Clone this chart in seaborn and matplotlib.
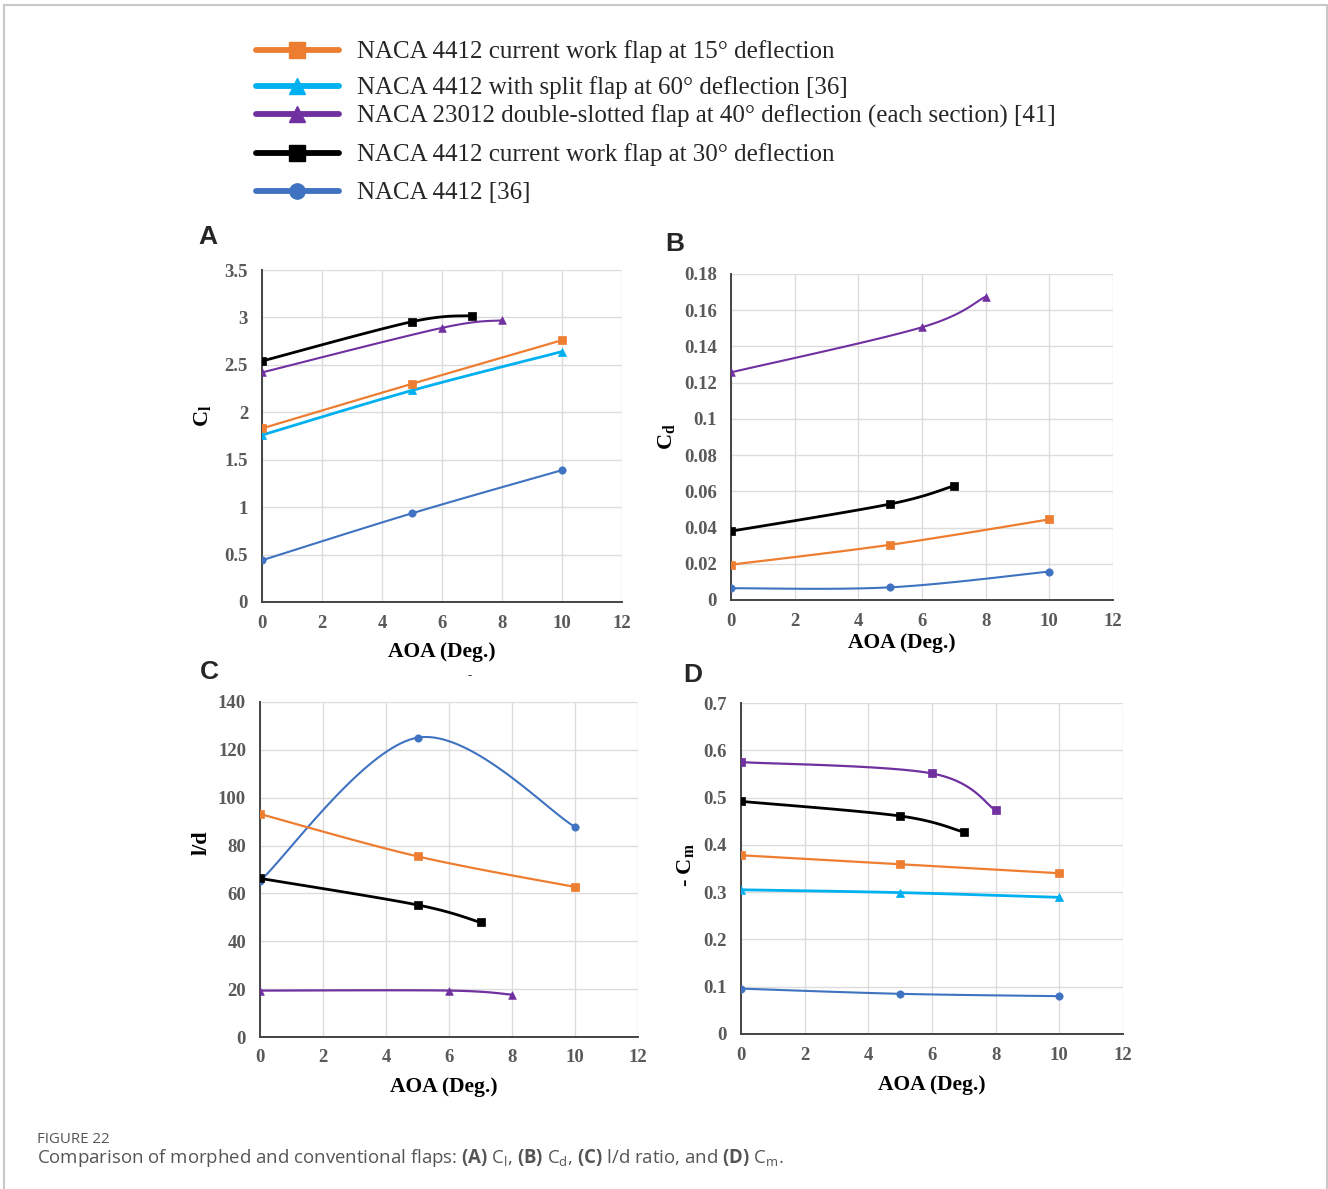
import numpy as np
import matplotlib
matplotlib.use("Agg")
import matplotlib.pyplot as plt
import seaborn as sns
from matplotlib.lines import Line2D
from matplotlib.patches import Rectangle

# ---------------- data ----------------
aoa_main = [0, 5, 10]      # angle of attack for NACA 4412 series
aoa_30 = [0, 5, 7]         # current work flap at 30 deg
aoa_23012 = [0, 6, 8]      # NACA 23012 double-slotted flap

series_labels = [
    "NACA 4412 current work flap at 15\u00b0 deflection",
    "NACA 4412 with split flap at 60\u00b0 deflection [36]",
    "NACA 23012 double-slotted flap at 40\u00b0 deflection (each section) [41]",
    "NACA 4412 current work flap at 30\u00b0 deflection",
    "NACA 4412 [36]",
]

# (A) lift coefficient
cl_flap15 = [1.83, 2.30, 2.76]
cl_split60 = [1.76, 2.23, 2.64]
cl_23012 = [2.42, 2.89, 2.97]
cl_flap30 = [2.54, 2.955, 3.02]
cl_4412 = [0.44, 0.935, 1.39]

# (B) drag coefficient
cd_flap15 = [0.0195, 0.0305, 0.0445]
cd_23012 = [0.1257, 0.1506, 0.1675]
cd_flap30 = [0.038, 0.053, 0.063]
cd_4412 = [0.0065, 0.0070, 0.0157]

# (C) lift-to-drag ratio
ld_flap15 = [93.2, 75.5, 62.7]
ld_23012 = [19.4, 19.4, 17.7]
ld_flap30 = [66.3, 55.2, 47.9]
ld_4412 = [65.2, 125.1, 87.8]

# (D) pitching moment coefficient (negative)
cm_flap15 = [0.378, 0.359, 0.340]
cm_split60 = [0.305, 0.299, 0.289]
cm_23012 = [0.575, 0.551, 0.473]
cm_flap30 = [0.492, 0.461, 0.427]
cm_4412 = [0.096, 0.085, 0.080]

# ---------------- styling ----------------
C_ORANGE = "#ED7D31"
C_CYAN = "#00B0F0"
C_PURPLE = "#7030A0"
C_BLACK = "#000000"
C_BLUE = "#3F72C0"

W, H = 1328, 1189

sns.set_style("white")
plt.rcParams["font.family"] = ["Liberation Serif", "DejaVu Serif"]
plt.rcParams["mathtext.fontset"] = "custom"
plt.rcParams["mathtext.rm"] = "Liberation Serif"
plt.rcParams["mathtext.bf"] = "Open Sans:bold"

fig = plt.figure(figsize=(W / 100, H / 100), dpi=100)


def smooth(xs, ys, n=40):
    """Smoothed polyline through the points (cubic Bezier segments)."""
    p = np.column_stack([xs, ys]).astype(float)
    out = [p[0]]
    t = np.linspace(0, 1, n)[1:, None]
    for i in range(len(p) - 1):
        p_prev = p[i - 1] if i > 0 else p[i]
        p_next = p[i + 2] if i + 2 < len(p) else p[i + 1]
        c1 = p[i] + (p[i + 1] - p_prev) / 6.0
        c2 = p[i + 1] - (p_next - p[i]) / 6.0
        seg = ((1 - t) ** 3) * p[i] + 3 * ((1 - t) ** 2) * t * c1 \
            + 3 * (1 - t) * (t ** 2) * c2 + (t ** 3) * p[i + 1]
        out.extend(seg)
    return np.array(out)


def draw_series(ax, xs, ys, color, marker, lw=1.5, msize=30, z=3):
    curve = smooth(xs, ys)
    sns.lineplot(x=curve[:, 0], y=curve[:, 1], ax=ax, color=color, lw=lw,
                 sort=False, estimator=None, zorder=z)
    sns.scatterplot(x=xs, y=ys, ax=ax, color=color, marker=marker, s=msize,
                    edgecolor=color, linewidth=0.5, zorder=z + 1)


def style_axes(ax, ymax, ystep, ylabel, ylab_xy, xlab_xy):
    ax.set_xlim(0, 12)
    ax.set_ylim(0, ymax)
    xt = list(range(0, 13, 2))
    yt = np.arange(0, ymax + ystep / 2, ystep)
    tick_kw = dict(fontweight="bold", fontsize=13.5, color="#595959",
                   family="Liberation Serif")
    ax.set_xticks(xt, labels=[str(v) for v in xt], **tick_kw)
    ax.set_yticks(yt, labels=["{:g}".format(round(v, 4)) for v in yt], **tick_kw)
    ax.grid(True, color="#dcdcdc", lw=1.0)
    ax.set_axisbelow(True)
    for s in ["top", "right"]:
        ax.spines[s].set_visible(False)
    for s in ["left", "bottom"]:
        ax.spines[s].set_visible(True)
        ax.spines[s].set_color("#444444")
        ax.spines[s].set_linewidth(1.4)
    ax.tick_params(axis="both", direction="in", length=4, width=1.2,
                   color="#444444")
    ax.tick_params(axis="y", pad=10)
    ax.tick_params(axis="x", pad=9)
    ax.set_facecolor("white")
    ax.set_xlabel("AOA (Deg.)", fontsize=15.5, fontweight="bold", color="black")
    ax.set_ylabel(ylabel, fontsize=16, fontweight="bold", color="black")
    ax.xaxis.set_label_coords(*xlab_xy)
    ax.yaxis.set_label_coords(*ylab_xy)


def axes_px(left, top, right, bottom):
    return fig.add_axes([left / W, 1 - bottom / H, (right - left) / W, (bottom - top) / H])


axA = axes_px(262, 270, 622, 602)
axB = axes_px(731, 274, 1113, 600)
axC = axes_px(260, 702, 638, 1037)
axD = axes_px(741, 703, 1123, 1034)

# (A)
draw_series(axA, aoa_main, cl_4412, C_BLUE, "o", lw=1.5, msize=28)
draw_series(axA, aoa_main, cl_split60, C_CYAN, "^", lw=2.0, msize=34)
draw_series(axA, aoa_main, cl_flap15, C_ORANGE, "s", lw=1.6, msize=36)
draw_series(axA, aoa_23012, cl_23012, C_PURPLE, "^", lw=1.5, msize=30)
draw_series(axA, aoa_30, cl_flap30, C_BLACK, "s", lw=2.0, msize=40)
style_axes(axA, 3.5, 0.5, r"C$_\mathregular{l}$", (-0.133, 0.56), (0.5, -0.12))

# (B)
draw_series(axB, aoa_main, cd_4412, C_BLUE, "o", lw=1.5, msize=28)
draw_series(axB, aoa_main, cd_flap15, C_ORANGE, "s", lw=1.6, msize=36)
draw_series(axB, aoa_23012, cd_23012, C_PURPLE, "^", lw=1.5, msize=30)
draw_series(axB, aoa_30, cd_flap30, C_BLACK, "s", lw=2.0, msize=40)
style_axes(axB, 0.18, 0.02, r"C$_\mathregular{d}$", (-0.139, 0.5), (0.448, -0.1))

# (C)
draw_series(axC, aoa_main, ld_4412, C_BLUE, "o", lw=1.5, msize=28)
draw_series(axC, aoa_main, ld_flap15, C_ORANGE, "s", lw=1.6, msize=36)
draw_series(axC, aoa_23012, ld_23012, C_PURPLE, "^", lw=1.6, msize=30)
draw_series(axC, aoa_30, ld_flap30, C_BLACK, "s", lw=2.0, msize=40)
style_axes(axC, 140, 20, "l/d", (-0.127, 0.58), (0.487, -0.12))

# (D)
draw_series(axD, aoa_main, cm_4412, C_BLUE, "o", lw=1.5, msize=28)
draw_series(axD, aoa_main, cm_split60, C_CYAN, "^", lw=2.0, msize=34)
draw_series(axD, aoa_main, cm_flap15, C_ORANGE, "s", lw=1.6, msize=36)
draw_series(axD, aoa_23012, cm_23012, C_PURPLE, "s", lw=1.6, msize=40)
draw_series(axD, aoa_30, cm_flap30, C_BLACK, "s", lw=2.0, msize=40)
style_axes(axD, 0.7, 0.1, r"- C$_\mathregular{m}$", (-0.115, 0.51), (0.5, -0.124))

# panel letters
for letter, (px, py) in zip("ABCD", [(198, 244), (665, 251), (200, 679), (683, 682)]):
    fig.text(px / W, 1 - py / H, letter, fontsize=19, fontweight="bold",
             family="Liberation Sans", ha="left", va="baseline")

fig.text(470 / W, 1 - 676 / H, "-", fontsize=9, color="#333333", ha="center",
         va="center")

# legend rows at the top of the figure
legend_styles = [
    (C_ORANGE, "s"),
    (C_CYAN, "^"),
    (C_PURPLE, "^"),
    (C_BLACK, "s"),
    (C_BLUE, "o"),
]
row_y = [52, 88, 116, 155, 193]
for (color, marker), label, yy in zip(legend_styles, series_labels, row_y):
    h = Line2D([0], [0], color=color, lw=4.2, marker=marker, markersize=11,
               markeredgecolor=color)
    fig.legend([h], [label], loc="center left",
               bbox_to_anchor=(256 / W, 1 - yy / H), frameon=False,
               borderpad=0, borderaxespad=0, handlelength=3.3,
               handletextpad=0.75, prop={"family": "Liberation Serif",
                                         "size": 18, "weight": "normal"})

# outer frame
fig.patches.append(Rectangle((4 / W, -0.05), (1327 - 4) / W, 1.05 - 5 / H,
                             transform=fig.transFigure, fill=False,
                             edgecolor="#c8c8c8", lw=1.5))

# caption
fig.text(37 / W, 1 - 1143 / H, "FIGURE 22", fontsize=10.8, color="#555555",
         family="Open Sans", ha="left", va="baseline")
fig.text(37 / W, 1 - 1163 / H,
         r"Comparison of morphed and conventional flaps: $\mathbf{(A)}$ "
         r"C$_\mathregular{l}$, $\mathbf{(B)}$ C$_\mathregular{d}$, "
         r"$\mathbf{(C)}$ l/d ratio, and $\mathbf{(D)}$ C$_\mathregular{m}$.",
         fontsize=13.4, color="#555555", family="Open Sans", ha="left",
         va="baseline")

fig.savefig("out.png", dpi=100, facecolor="white")
